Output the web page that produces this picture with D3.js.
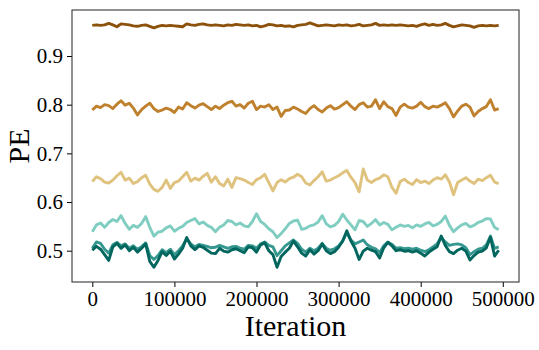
<!DOCTYPE html>
<html>
<head>
<meta charset="utf-8">
<script src="https://cdn.jsdelivr.net/npm/d3@7"></script>
<style>
  body { margin: 0; background: #fff; }
  svg text { font-family: "Liberation Serif", "DejaVu Serif", serif; fill: #000; }
</style>
</head>
<body>
<svg id="chart" width="539" height="350"></svg>
<script>
// iterations sampled every 5000 steps
var iterations = d3.range(0, 500000, 5000);

var peA = [0.963,0.964,0.963,0.964,0.967,0.964,0.960,0.966,0.965,0.964,
  0.962,0.961,0.963,0.964,0.961,0.958,0.961,0.963,0.962,0.963,
  0.962,0.961,0.960,0.966,0.964,0.963,0.965,0.966,0.964,0.963,
  0.964,0.963,0.962,0.964,0.963,0.965,0.964,0.963,0.964,0.962,
  0.963,0.960,0.962,0.965,0.964,0.962,0.963,0.961,0.962,0.960,
  0.963,0.964,0.965,0.968,0.965,0.962,0.963,0.964,0.963,0.962,
  0.964,0.963,0.964,0.962,0.963,0.965,0.962,0.963,0.964,0.967,
  0.963,0.964,0.963,0.964,0.963,0.964,0.963,0.962,0.963,0.961,
  0.964,0.966,0.963,0.965,0.963,0.964,0.967,0.963,0.960,0.962,
  0.964,0.963,0.962,0.959,0.962,0.963,0.962,0.963,0.962,0.963];

var peB = [0.789,0.797,0.794,0.800,0.798,0.792,0.801,0.808,0.799,0.803,
  0.793,0.779,0.790,0.797,0.803,0.792,0.786,0.789,0.793,0.790,
  0.784,0.795,0.791,0.804,0.798,0.793,0.799,0.802,0.796,0.790,
  0.797,0.792,0.799,0.804,0.807,0.797,0.800,0.793,0.803,0.807,
  0.790,0.797,0.795,0.800,0.790,0.795,0.776,0.788,0.789,0.795,
  0.791,0.786,0.782,0.792,0.798,0.790,0.785,0.793,0.798,0.791,
  0.794,0.800,0.806,0.797,0.790,0.800,0.804,0.795,0.797,0.810,
  0.792,0.806,0.796,0.792,0.778,0.795,0.801,0.795,0.793,0.797,
  0.805,0.796,0.792,0.797,0.795,0.799,0.804,0.792,0.775,0.787,
  0.797,0.801,0.795,0.777,0.786,0.792,0.796,0.810,0.789,0.792];

var peC = [0.642,0.652,0.648,0.641,0.639,0.645,0.654,0.661,0.645,0.649,
  0.638,0.642,0.650,0.655,0.637,0.626,0.622,0.630,0.645,0.628,
  0.640,0.643,0.652,0.661,0.643,0.649,0.645,0.653,0.659,0.641,
  0.652,0.638,0.633,0.647,0.630,0.650,0.648,0.645,0.640,0.636,
  0.646,0.650,0.657,0.640,0.623,0.640,0.646,0.641,0.648,0.651,
  0.657,0.652,0.639,0.635,0.644,0.652,0.662,0.643,0.645,0.650,
  0.654,0.660,0.665,0.651,0.640,0.621,0.668,0.645,0.640,0.646,
  0.649,0.656,0.652,0.630,0.618,0.642,0.647,0.640,0.636,0.646,
  0.640,0.643,0.638,0.645,0.650,0.647,0.656,0.641,0.615,0.640,
  0.645,0.650,0.643,0.638,0.647,0.644,0.650,0.655,0.641,0.638];

var peD = [0.539,0.553,0.557,0.548,0.558,0.564,0.560,0.572,0.556,0.544,
  0.552,0.548,0.556,0.570,0.548,0.530,0.538,0.540,0.547,0.551,
  0.540,0.546,0.550,0.558,0.562,0.566,0.555,0.559,0.552,0.548,
  0.539,0.548,0.553,0.562,0.560,0.553,0.557,0.551,0.549,0.560,
  0.576,0.560,0.554,0.545,0.539,0.527,0.535,0.545,0.556,0.561,
  0.563,0.544,0.546,0.551,0.553,0.559,0.572,0.555,0.549,0.552,
  0.560,0.575,0.563,0.553,0.543,0.562,0.560,0.550,0.556,0.564,
  0.553,0.558,0.554,0.543,0.548,0.553,0.550,0.552,0.547,0.553,
  0.550,0.555,0.558,0.551,0.554,0.560,0.571,0.552,0.539,0.547,
  0.553,0.556,0.549,0.552,0.558,0.561,0.566,0.565,0.548,0.543];

var peE = [0.505,0.518,0.515,0.503,0.495,0.512,0.517,0.510,0.514,0.505,
  0.510,0.503,0.508,0.516,0.490,0.482,0.490,0.502,0.496,0.503,
  0.492,0.500,0.510,0.524,0.514,0.508,0.513,0.511,0.509,0.506,
  0.507,0.511,0.508,0.505,0.508,0.509,0.505,0.503,0.511,0.510,
  0.505,0.514,0.518,0.511,0.508,0.490,0.500,0.510,0.516,0.522,
  0.515,0.503,0.497,0.505,0.500,0.505,0.515,0.505,0.501,0.504,
  0.510,0.520,0.537,0.522,0.514,0.518,0.522,0.512,0.507,0.504,
  0.496,0.510,0.518,0.513,0.505,0.506,0.504,0.505,0.503,0.505,
  0.501,0.498,0.502,0.508,0.514,0.527,0.518,0.511,0.513,0.514,
  0.512,0.506,0.492,0.498,0.503,0.505,0.512,0.530,0.505,0.508];

var peF = [0.501,0.509,0.503,0.492,0.480,0.508,0.515,0.505,0.512,0.500,
  0.507,0.497,0.505,0.514,0.478,0.466,0.480,0.498,0.490,0.499,
  0.483,0.493,0.505,0.527,0.510,0.502,0.510,0.507,0.501,0.495,
  0.494,0.505,0.499,0.497,0.502,0.504,0.500,0.496,0.508,0.506,
  0.497,0.512,0.516,0.500,0.492,0.466,0.488,0.497,0.505,0.520,
  0.508,0.495,0.489,0.502,0.493,0.500,0.514,0.500,0.494,0.498,
  0.507,0.520,0.541,0.520,0.505,0.482,0.499,0.505,0.501,0.498,
  0.485,0.506,0.517,0.510,0.500,0.502,0.499,0.500,0.497,0.500,
  0.495,0.489,0.497,0.503,0.508,0.530,0.511,0.498,0.494,0.501,
  0.505,0.499,0.481,0.490,0.497,0.499,0.506,0.528,0.489,0.501];

var seriesList = [peA, peB, peC, peD, peE, peF];
var seriesColors = ["#8c510a", "#bf812d", "#dfc27d", "#80cdc1", "#35978f", "#01665e"];

var xTicks = [0, 100000, 200000, 300000, 400000, 500000];
var yTicks = [0.5, 0.6, 0.7, 0.8, 0.9];

var svg = d3.select("#chart");
var margin = { left: 72, right: 20, top: 10, bottom: 68 };
var width = 539 - margin.left - margin.right;
var height = 350 - margin.top - margin.bottom;

var x = d3.scaleLinear().domain([-24750, 519750]).range([0, width]);
var y = d3.scaleLinear().domain([0.4357, 0.9945]).range([height, 0]);

var g = svg.append("g").attr("transform", "translate(" + margin.left + "," + margin.top + ")");

// lines
var line = d3.line()
    .x(function(d, i) { return x(iterations[i]); })
    .y(function(d) { return y(d); });

seriesList.forEach(function(vals, k) {
    g.append("path")
        .datum(vals)
        .attr("d", line)
        .attr("fill", "none")
        .attr("stroke", seriesColors[k])
        .attr("stroke-width", 2.9)
        .attr("stroke-linejoin", "round");
});

// axes
var xAxis = d3.axisBottom(x).tickValues(xTicks).tickFormat(d3.format("d")).tickSizeInner(5).tickSizeOuter(0).tickPadding(4);
var yAxis = d3.axisLeft(y).tickValues(yTicks).tickFormat(d3.format(".1f")).tickSizeInner(5).tickSizeOuter(0).tickPadding(4);

var gx = g.append("g").attr("transform", "translate(0," + height + ")").call(xAxis);
var gy = g.append("g").call(yAxis);
[gx, gy].forEach(function(ax) {
    ax.select(".domain").remove();
    ax.selectAll("line").attr("stroke", "#000").attr("stroke-width", 1);
    ax.selectAll("text").style("font-size", "21px").attr("fill", "#000");
});

// frame
g.append("rect")
    .attr("width", width).attr("height", height)
    .attr("fill", "none").attr("stroke", "#222").attr("stroke-width", 1);

// labels
svg.append("text")
    .attr("x", margin.left + width / 2).attr("y", 336)
    .attr("text-anchor", "middle")
    .style("font-size", "30px")
    .text("Iteration");

svg.append("text")
    .attr("transform", "translate(29," + (margin.top + height / 2) + ") rotate(-90)")
    .attr("text-anchor", "middle")
    .style("font-size", "30px")
    .text("PE");
</script>
</body>
</html>
